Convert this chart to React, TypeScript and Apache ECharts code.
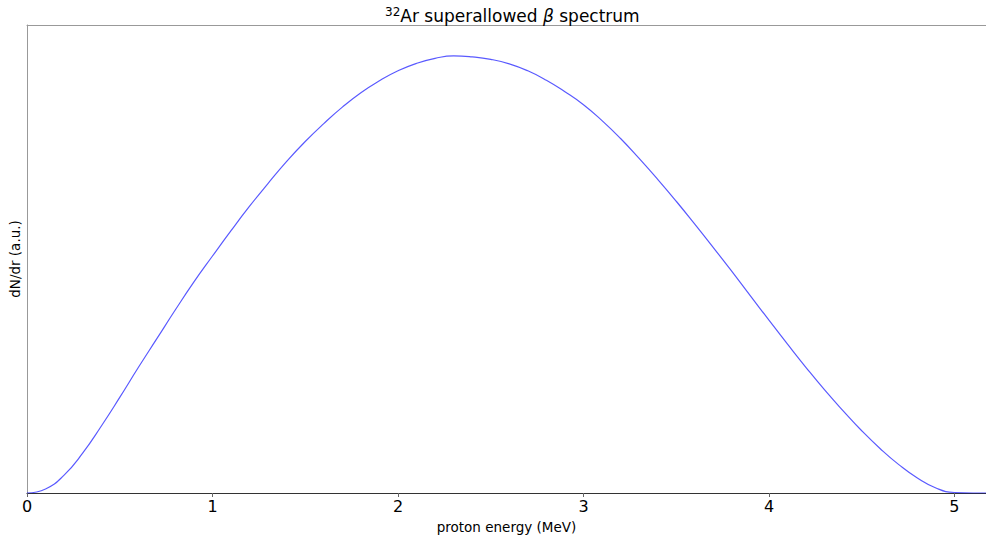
import React, { useEffect, useRef } from 'react';
import * as echarts from 'echarts';

const energy = [
  0.0, 0.1, 0.2, 0.3, 0.4, 0.5, 0.6, 0.7, 0.8, 0.9,
  1.0, 1.1, 1.2, 1.3, 1.4, 1.5, 1.6, 1.7, 1.8, 1.9,
  2.0, 2.1, 2.2, 2.3, 2.4, 2.5, 2.6, 2.7, 2.8, 2.9,
  3.0, 3.1, 3.2, 3.3, 3.4, 3.5, 3.6, 3.7, 3.8, 3.9,
  4.0, 4.1, 4.2, 4.3, 4.4, 4.5, 4.6, 4.7, 4.8, 4.9,
  5.0, 5.1, 5.2,
];
const counts = [
  0, 4, 18, 40, 67, 96, 126, 155, 184, 212,
  238, 263.5, 288, 311, 333, 353, 371, 387.5, 402, 414,
  424, 431.5, 436.5, 439, 438, 435.5, 431, 424, 414.5, 403,
  390, 374, 356, 336, 315, 293, 270, 246.5, 222.5, 198,
  173.5, 149.5, 126, 103.5, 82.5, 62.5, 44.5, 28.5, 15, 5,
  0.5, 0, 0,
];
const xTicks = [0, 1, 2, 3, 4, 5];
const xMax = 5.17;
const yMax = 470;

const FONT = "'DejaVu Sans', sans-serif";

export default function App() {
  const ref = useRef<HTMLDivElement>(null);
  useEffect(() => {
    document.body.style.margin = '0';
    const chart = echarts.init(ref.current!, null, { renderer: 'svg' });
    chart.setOption({
      animation: false,
      backgroundColor: '#fff',
      title: {
        left: 380,
        top: 1,
        text: '{sup|32}{n|Ar superallowed }{b|β}{n| spectrum}',
        textStyle: {
          fontWeight: 'normal',
          rich: {
            sup: { fontSize: 12, fontFamily: FONT, color: '#000', fontWeight: 'normal', padding: [0, 0, 8, 0] },
            n: { fontSize: 17, fontFamily: FONT, color: '#000', fontWeight: 'normal' },
            b: { fontSize: 17, fontFamily: FONT, color: '#000', fontWeight: 'normal', fontStyle: 'italic' },
          },
        },
      },
      grid: { left: 27, top: 25, right: 0, bottom: 44 },
      xAxis: [
        {
          type: 'value',
          min: 0,
          max: xMax,
          position: 'bottom',
          name: 'proton energy (MeV)',
          nameLocation: 'middle',
          nameGap: 27,
          nameTextStyle: { fontSize: 13.5, color: '#000', fontFamily: FONT },
          axisLine: { show: true, onZero: false, lineStyle: { color: '#333', width: 1.2 } },
          axisTick: { show: true, customValues: xTicks, length: 4, lineStyle: { color: '#666' } },
          axisLabel: { show: true, customValues: xTicks, fontSize: 16, color: '#000', fontFamily: FONT, margin: 5 },
          splitLine: { show: false },
        },
        {
          type: 'value',
          min: 0,
          max: xMax,
          position: 'top',
          axisLine: { show: true, onZero: false, lineStyle: { color: '#999', width: 1 } },
          axisTick: { show: false },
          axisLabel: { show: false },
          splitLine: { show: false },
        },
      ],
      yAxis: {
        type: 'value',
        min: 0,
        max: yMax,
        name: 'dN/dr (a.u.)',
        nameLocation: 'middle',
        nameGap: 5,
        nameTextStyle: { fontSize: 13.5, color: '#000', fontFamily: FONT },
        axisLine: { show: true, onZero: false, lineStyle: { color: '#999', width: 1 } },
        axisTick: { show: false },
        axisLabel: { show: false },
        splitLine: { show: false },
      },
      series: [
        {
          type: 'line',
          xAxisIndex: 0,
          data: energy.map((e, i) => [e, counts[i]]),
          showSymbol: false,
          smooth: 0.5,
          lineStyle: { color: '#0000ff', width: 1.2, opacity: 0.65 },
        },
      ],
    });
    return () => chart.dispose();
  }, []);
  return <div ref={ref} style={{ width: 986, height: 539 }} />;
}
